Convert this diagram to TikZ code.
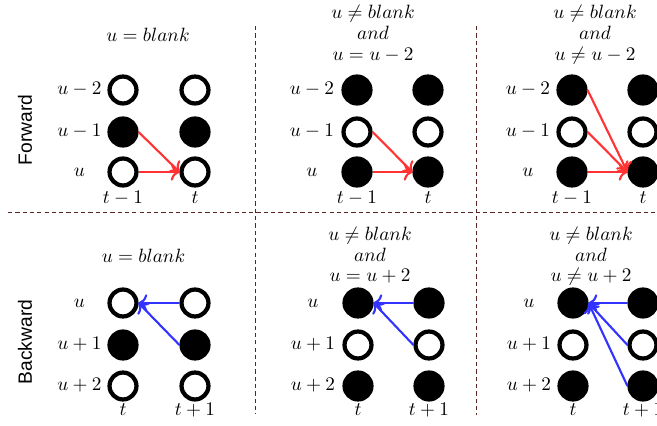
\documentclass[tikz,border=0pt]{standalone}
\usepackage{fontspec}
\newfontfamily\sidesans{Liberation Sans}
\usetikzlibrary{arrows.meta}
\definecolor{fwdred}{RGB}{255,51,51}
\definecolor{bwdblue}{RGB}{51,51,255}
\definecolor{sepbrown}{RGB}{90,35,35}
\tikzset{
	emptydot/.style={shape=circle, draw, line width=2.2pt, minimum size=14pt, inner sep=0pt, fill=white},
	fulldot/.style={emptydot, fill=black},
	rowlabel/.style={anchor=base, inner sep=0pt},
	steplabel/.style={anchor=base, inner sep=0pt},
	condtext/.style={anchor=base, align=center, inner sep=0pt, font=\fontsize{10}{10.9}\selectfont},
	sidetext/.style={rotate=90, font=\sidesans\fontsize{10}{12}\selectfont},
	fwdarrow/.style={draw=fwdred, line width=1.1pt, -{To[length=4.5pt, width=9pt]}},
	bwdarrow/.style={draw=bwdblue, line width=1.1pt, -{To[length=4.5pt, width=9pt]}},
	sepline/.style={draw=sepbrown, line width=0.75pt, dash pattern=on 2.2pt off 1.6pt}
}
\begin{document}
\begin{tikzpicture}[x=0.52pt, y=-0.52pt]
	\useasboundingbox (0,0) rectangle (657,426);
	\clip (0,0) rectangle (657,426);
	% Separators:
	\draw[sepline] (8,212.5) -- (657,212.5);
	\draw[sepline] (255.5,26) -- (255.5,414);
	\draw[sepline] (476.5,26) -- (476.5,415);
	\node[sidetext] (fwd) at (25,130) {Forward};
	\node[sidetext] (bwd) at (25,342) {Backward};

	% Forward, u = blank:
	\node[condtext] (f1-cond) at (148,42) {$u = blank$};
	\node[emptydot] (f1-11) at (123,90) {};
	\node[emptydot] (f1-12) at (195,90) {};
	\node[fulldot] (f1-21) at (123,132) {};
	\node[fulldot] (f1-22) at (195,132) {};
	\node[emptydot] (f1-31) at (123,172) {};
	\node[emptydot] (f1-32) at (195,172) {};
	\node[rowlabel] (f1-r1) at (79.5,95) {$u-2$};
	\node[rowlabel] (f1-r2) at (79.5,137) {$u-1$};
	\node[rowlabel] (f1-r3) at (79.5,177) {$u$};
	\node[steplabel] (f1-c1) at (123,204) {$t-1$};
	\node[steplabel] (f1-c2) at (195,204) {$t$};
	\draw[fwdarrow] (f1-21.east) -- (f1-32.west);
	\draw[fwdarrow] (f1-31.east) -- (f1-32.west);

	% Forward, u != blank and u = u-2:
	\node[condtext] (f2-cond) at (373,60.5) {$u \neq blank$\\$and$\\$u = u-2$};
	\node[fulldot] (f2-11) at (357,90) {};
	\node[fulldot] (f2-12) at (428,90) {};
	\node[emptydot] (f2-21) at (357,132) {};
	\node[emptydot] (f2-22) at (428,132) {};
	\node[fulldot] (f2-31) at (357,172) {};
	\node[fulldot] (f2-32) at (428,172) {};
	\node[rowlabel] (f2-r1) at (312,95) {$u-2$};
	\node[rowlabel] (f2-r2) at (312,137) {$u-1$};
	\node[rowlabel] (f2-r3) at (312,177) {$u$};
	\node[steplabel] (f2-c1) at (357,204) {$t-1$};
	\node[steplabel] (f2-c2) at (428,204) {$t$};
	\draw[fwdarrow] (f2-21.east) -- (f2-32.west);
	\draw[fwdarrow] (f2-31.east) -- (f2-32.west);

	% Forward, u != blank and u != u-2:
	\node[condtext] (f3-cond) at (595,60.5) {$u \neq blank$\\$and$\\$u \neq u-2$};
	\node[fulldot] (f3-11) at (572,90) {};
	\node[fulldot] (f3-12) at (643,90) {};
	\node[emptydot] (f3-21) at (572,132) {};
	\node[emptydot] (f3-22) at (643,132) {};
	\node[fulldot] (f3-31) at (572,172) {};
	\node[fulldot] (f3-32) at (643,172) {};
	\node[rowlabel] (f3-r1) at (528,95) {$u-2$};
	\node[rowlabel] (f3-r2) at (528,137) {$u-1$};
	\node[rowlabel] (f3-r3) at (528,177) {$u$};
	\node[steplabel] (f3-c1) at (572,204) {$t-1$};
	\node[steplabel] (f3-c2) at (643,204) {$t$};
	\draw[fwdarrow] (f3-11.east) -- (f3-32.west);
	\draw[fwdarrow] (f3-21.east) -- (f3-32.west);
	\draw[fwdarrow] (f3-31.east) -- (f3-32.west);

	% Backward, u = blank:
	\node[condtext] (b1-cond) at (143.5,263) {$u = blank$};
	\node[emptydot] (b1-11) at (123,303) {};
	\node[emptydot] (b1-12) at (195,303) {};
	\node[fulldot] (b1-21) at (123,345) {};
	\node[fulldot] (b1-22) at (195,345) {};
	\node[emptydot] (b1-31) at (123,386) {};
	\node[emptydot] (b1-32) at (195,386) {};
	\node[rowlabel] (b1-r1) at (79.5,308) {$u$};
	\node[rowlabel] (b1-r2) at (79.5,350) {$u+1$};
	\node[rowlabel] (b1-r3) at (79.5,391) {$u+2$};
	\node[steplabel] (b1-c1) at (123,416) {$t$};
	\node[steplabel] (b1-c2) at (195,416) {$t+1$};
	\draw[bwdarrow] (b1-12.west) -- (b1-11.east);
	\draw[bwdarrow] (b1-22.west) -- (b1-11.east);

	% Backward, u != blank and u = u+2:
	\node[condtext] (b2-cond) at (370,282) {$u \neq blank$\\$and$\\$u = u+2$};
	\node[fulldot] (b2-11) at (358,303) {};
	\node[fulldot] (b2-12) at (429,303) {};
	\node[emptydot] (b2-21) at (358,345) {};
	\node[emptydot] (b2-22) at (429,345) {};
	\node[fulldot] (b2-31) at (358,386) {};
	\node[fulldot] (b2-32) at (429,386) {};
	\node[rowlabel] (b2-r1) at (313,308) {$u$};
	\node[rowlabel] (b2-r2) at (313,350) {$u+1$};
	\node[rowlabel] (b2-r3) at (313,391) {$u+2$};
	\node[steplabel] (b2-c1) at (358,416) {$t$};
	\node[steplabel] (b2-c2) at (429,416) {$t+1$};
	\draw[bwdarrow] (b2-12.west) -- (b2-11.east);
	\draw[bwdarrow] (b2-22.west) -- (b2-11.east);

	% Backward, u != blank and u != u+2:
	\node[condtext] (b3-cond) at (591,282) {$u \neq blank$\\$and$\\$u \neq u+2$};
	\node[fulldot] (b3-11) at (573,303) {};
	\node[fulldot] (b3-12) at (643,303) {};
	\node[emptydot] (b3-21) at (573,345) {};
	\node[emptydot] (b3-22) at (643,345) {};
	\node[fulldot] (b3-31) at (573,386) {};
	\node[fulldot] (b3-32) at (643,386) {};
	\node[rowlabel] (b3-r1) at (529,308) {$u$};
	\node[rowlabel] (b3-r2) at (529,350) {$u+1$};
	\node[rowlabel] (b3-r3) at (529,391) {$u+2$};
	\node[steplabel] (b3-c1) at (573,416) {$t$};
	\node[steplabel] (b3-c2) at (643,416) {$t+1$};
	\draw[bwdarrow] (b3-12.west) -- (b3-11.east);
	\draw[bwdarrow] (b3-22.west) -- (b3-11.east);
	\draw[bwdarrow] (b3-32.west) -- (b3-11.east);
\end{tikzpicture}
\end{document}
